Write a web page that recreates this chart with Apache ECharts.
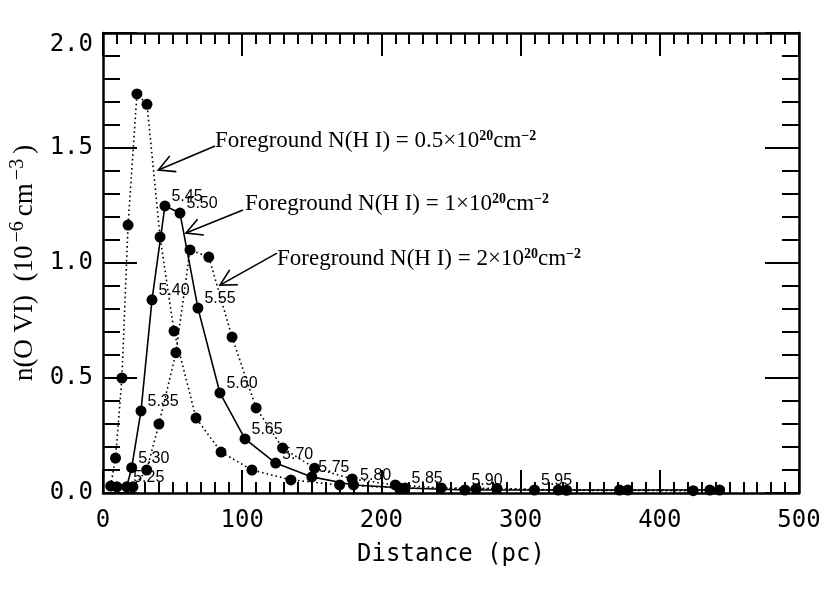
<!DOCTYPE html>
<html>
<head>
<meta charset="utf-8">
<script src="https://cdn.jsdelivr.net/npm/echarts@6/dist/echarts.min.js"></script>
<style>
html, body { margin: 0; padding: 0; background: #fff; }
#chartDist { width: 830px; height: 593px; }
</style>
</head>
<body>
<div id="chartDist"></div>
<script>
// Foreground N(H I) = 0.5e20 cm^-2 (dotted, tallest peak)
const distLow = [5.5, 9, 13.6, 18, 24.4, 31.6, 41, 51, 66.8, 84.8, 107, 135, 170, 213, 268, 333, 424]
const nLow = [0.03, 0.152, 0.50, 1.165, 1.735, 1.69, 1.113, 0.704, 0.326, 0.178, 0.10, 0.057, 0.035, 0.022, 0.018, 0.012, 0.01]

// Foreground N(H I) = 1e20 cm^-2 (solid, labelled with log T)
const distMid = [10, 17, 20.6, 27.3, 35.2, 44.5, 55.3, 68.2, 84, 102, 124, 150, 180, 217, 260, 310, 371, 443]
const nMid = [0.027, 0.027, 0.11, 0.357, 0.84, 1.248, 1.217, 0.804, 0.435, 0.235, 0.13, 0.07, 0.035, 0.022, 0.013, 0.013, 0.013, 0.013]
const logT = ['', '5.25', '5.30', '5.35', '5.40', '5.45', '5.50', '5.55', '5.60', '5.65', '5.70', '5.75', '5.80', '5.85', '5.90', '5.95', '', '']

// Foreground N(H I) = 2e20 cm^-2 (dotted, right curve)
const distHigh = [21.5, 31.4, 40.2, 52.4, 62.5, 76, 92.7, 110, 129, 152, 179, 210, 243, 283, 327, 377, 436]
const nHigh = [0.027, 0.10, 0.30, 0.61, 1.057, 1.026, 0.678, 0.37, 0.196, 0.108, 0.061, 0.035, 0.022, 0.02, 0.013, 0.013, 0.013]

// annotations: N(H I) coefficient, text anchor, arrow tail, arrow tip (data coords)
const noteCoef = ['0.5', '1', '2']
const noteAt = [[80.5, 1.530], [102, 1.257], [125, 1.017]]
const arrowFrom = [[80.5, 1.509], [100.6, 1.230], [125, 1.043]]
const arrowTo = [[39.8, 1.404], [59.6, 1.130], [84, 0.904]]

const xTicks = { min: 0, max: 500, interval: 100 }
const yTicks = { min: 0, max: 2, interval: 0.5 }

const monoFont = 'DejaVu Sans Mono'
const serifFont = 'Liberation Serif'

const pairs = (xs, ys) => xs.map((x, i) => [x, ys[i]])

function xAxisCfg(pos, showLabel) {
  return {
    type: 'value', position: pos, min: xTicks.min, max: xTicks.max, interval: xTicks.interval,
    axisLine: { show: true, onZero: false, lineStyle: { color: '#000', width: 2.5 } },
    axisTick: { show: true, inside: true, length: 23, lineStyle: { color: '#000', width: 2 } },
    minorTick: { show: true, splitNumber: 10, length: 11, lineStyle: { color: '#000', width: 2 } },
    splitLine: { show: false },
    axisLabel: { show: showLabel, margin: 16, color: '#000', fontSize: 24, fontFamily: monoFont },
    name: showLabel ? 'Distance (pc)' : '',
    nameLocation: 'middle',
    nameGap: 50,
    nameTextStyle: { color: '#000', fontSize: 24, fontFamily: monoFont }
  }
}

function yAxisCfg(pos, showLabel) {
  return {
    type: 'value', position: pos, min: yTicks.min, max: yTicks.max, interval: yTicks.interval,
    axisLine: { show: true, onZero: false, lineStyle: { color: '#000', width: 2.5 } },
    axisTick: { show: true, inside: true, length: 34, lineStyle: { color: '#000', width: 2 } },
    minorTick: { show: true, splitNumber: 5, length: 17, lineStyle: { color: '#000', width: 2 } },
    splitLine: { show: false },
    axisLabel: {
      show: showLabel, margin: 10, color: '#000', fontSize: 24, fontFamily: monoFont,
      formatter: v => v.toFixed(1), verticalAlignMaxLabel: 'top'
    },
    name: showLabel ? '{b|n(O VI)  (10}{s|−6}{b|cm}{s|−3}{b|)}' : '',
    nameLocation: 'middle',
    nameGap: 58,
    nameTextStyle: {
      color: '#000', fontSize: 27, fontFamily: serifFont,
      rich: {
        b: { fontSize: 27, fontFamily: serifFont, color: '#000' },
        s: { fontSize: 20, fontFamily: serifFont, color: '#000', verticalAlign: 'top', padding: [0, 5, 16, 3] }
      }
    }
  }
}

const dotted = { color: '#000', width: 1.6, type: [1.6, 3] }

const option = {
  animation: false,
  backgroundColor: '#fff',
  grid: { left: 103, right: 31, top: 33, bottom: 100, containLabel: false, outerBoundsMode: 'none' },
  xAxis: [xAxisCfg('bottom', true), xAxisCfg('top', false)],
  yAxis: [yAxisCfg('left', true), yAxisCfg('right', false)],
  series: [
    {
      name: '0.5', type: 'line', data: pairs(distLow, nLow),
      symbol: 'circle', symbolSize: 11,
      itemStyle: { color: '#000' }, lineStyle: dotted
    },
    {
      name: '1', type: 'line', data: pairs(distMid, nMid),
      symbol: 'circle', symbolSize: 11,
      itemStyle: { color: '#000' }, lineStyle: { color: '#000', width: 1.6 },
      label: {
        show: true, position: 'right', distance: 1, offset: [0, -9],
        formatter: p => logT[p.dataIndex],
        color: '#000', fontSize: 16, fontFamily: 'Liberation Sans'
      }
    },
    {
      name: '2', type: 'line', data: pairs(distHigh, nHigh),
      symbol: 'circle', symbolSize: 11,
      itemStyle: { color: '#000' }, lineStyle: dotted
    }
  ]
}

const myChart = echarts.init(document.getElementById('chartDist'))
myChart.setOption(option)

// arrows and annotation text, placed through the axes' own scales
const graphics = []
const head = 18
const spread = 28 * Math.PI / 180
noteCoef.forEach((c, i) => {
  const t = myChart.convertToPixel({ gridIndex: 0 }, noteAt[i])
  const a = myChart.convertToPixel({ gridIndex: 0 }, arrowFrom[i])
  const b = myChart.convertToPixel({ gridIndex: 0 }, arrowTo[i])
  const ang = Math.atan2(a[1] - b[1], a[0] - b[0])
  graphics.push({
    type: 'polyline', z: 10,
    shape: { points: [a, b] },
    style: { stroke: '#000', lineWidth: 1.6, fill: null }
  })
  graphics.push({
    type: 'polyline', z: 10,
    shape: {
      points: [
        [b[0] + head * Math.cos(ang + spread), b[1] + head * Math.sin(ang + spread)],
        b,
        [b[0] + head * Math.cos(ang - spread), b[1] + head * Math.sin(ang - spread)]
      ]
    },
    style: { stroke: '#000', lineWidth: 1.6, fill: null }
  })
  graphics.push({
    type: 'text', z: 10, x: t[0], y: t[1],
    style: {
      text: '{b|Foreground N(H I) = ' + c + '×10}{s|20}{b|cm}{s|−2}',
      align: 'left', verticalAlign: 'middle', fill: '#000',
      fontSize: 23, fontFamily: serifFont,
      rich: {
        b: { fontSize: 23, fontFamily: serifFont, fill: '#000' },
        s: { fontSize: 14, fontFamily: serifFont, fontWeight: 'bold', fill: '#000', verticalAlign: 'top' }
      }
    }
  })
})
myChart.setOption({ graphic: graphics })

window.addEventListener('resize', () => {
  myChart.resize()
})
</script>
</body>
</html>
